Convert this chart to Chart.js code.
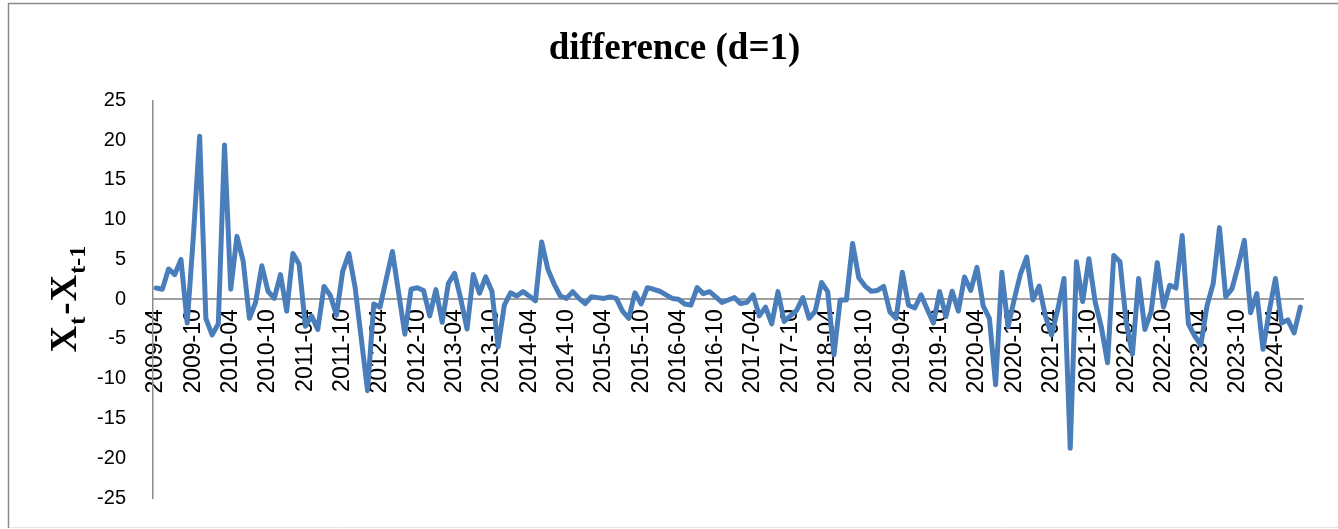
<!DOCTYPE html>
<html>
<head>
<meta charset="utf-8">
<title>difference (d=1)</title>
<script src="https://cdn.jsdelivr.net/npm/chart.js@4/dist/chart.umd.min.js"></script>
<style>
  html, body { margin: 0; padding: 0; background: #ffffff; }
  #wrap { position: relative; width: 1338px; height: 529px; }
</style>
</head>
<body>
<div id="wrap"><canvas id="chart" width="1338" height="529"></canvas></div>
<script>
// First month of the differenced series and how many months it covers
const startYear = 2009;
const startMonth = 4;
const monthCount = 185;

// Monthly first differences X(t) - X(t-1)
const diffValues = [
  1.4, 1.25, 3.8, 3.1, 5.0, -3.0, 8.0, 20.5, -2.4, -4.5,
  -3.1, 19.4, 1.25, 7.9, 4.8, -2.4, -0.4, 4.2, 1.0, 0.1,
  3.1, -1.5, 5.75, 4.4, -3.4, -2.1, -3.8, 1.6, 0.5, -2.0,
  3.5, 5.75, 1.5, -5.0, -11.5, -0.6, -1.0, 2.5, 6.0, 0.8,
  -4.4, 1.25, 1.45, 1.1, -2.1, 1.2, -2.9, 2.0, 3.25, 0.0,
  -3.75, 3.1, 0.75, 2.8, 1.0, -6.0, -0.75, 0.8, 0.4, 0.95,
  0.4, -0.2, 7.2, 3.75, 1.9, 0.4, 0.1, 0.95, 0.1, -0.55,
  0.3, 0.2, 0.1, 0.3, 0.1, -1.5, -2.4, 0.8, -0.6, 1.45,
  1.25, 1.0, 0.55, 0.1, 0.0, -0.6, -0.75, 1.45, 0.7, 0.95,
  0.3, -0.4, -0.1, 0.2, -0.55, -0.4, 0.55, -2.1, -1.0, -3.1,
  0.95, -2.8, -2.1, -1.4, 0.2, -2.4, -1.5, 2.1, 0.95, -7.0,
  -0.1, -0.1, 7.0, 2.7, 1.65, 1.0, 1.1, 1.6, -1.6, -2.4,
  3.4, -0.75, -1.1, 0.55, -1.25, -3.0, 0.95, -2.2, 1.0, -1.5,
  2.8, 1.1, 4.0, -0.85, -2.4, -10.75, 3.4, -3.5, 0.0, 3.2,
  5.3, -0.1, 1.65, -2.1, -4.5, -1.25, 2.6, -18.75, 4.7, -0.3,
  5.1, -0.3, -3.5, -8.0, 5.5, 4.7, -2.9, -6.9, 2.6, -3.8,
  -1.6, 4.6, -1.0, 1.75, 1.4, 8.0, -3.1, -4.6, -5.75, -0.8,
  2.0, 9.0, 0.3, 1.3, 4.2, 7.4, -1.7, 0.7, -6.3, -1.5,
  2.6, -3.0, -2.6, -4.25, -1.0
];

// Y axis range and step
const yMin = -25;
const yMax = 25;
const yStep = 5;

// Month labels "YYYY-MM"
const months = [];
for (let k = 0; k < monthCount; k++) {
  const m0 = startMonth - 1 + k;
  const y = startYear + Math.floor(m0 / 12);
  const m = (m0 % 12) + 1;
  months.push(y + '-' + String(m).padStart(2, '0'));
}
// A tick label every six months
const labelEvery = 6;

// Outer frame of the chart
const framePlugin = {
  id: 'frame',
  beforeDraw(chart) {
    const ctx = chart.ctx;
    ctx.save();
    ctx.strokeStyle = '#e6e6e6';
    ctx.lineWidth = 1;
    ctx.beginPath();
    ctx.moveTo(8, 527.5);
    ctx.lineTo(1338, 527.5);
    ctx.stroke();
    ctx.strokeStyle = '#8a8a8a';
    ctx.lineWidth = 1.5;
    ctx.beginPath();
    ctx.moveTo(1338, 3.5);
    ctx.lineTo(8.5, 3.5);
    ctx.lineTo(8.5, 528);
    ctx.stroke();
    ctx.restore();
  }
};

// Vertical axis title with subscripts: X_t - X_t-1
const yTitlePlugin = {
  id: 'yTitleSub',
  afterDraw(chart) {
    const ctx = chart.ctx;
    const area = chart.chartArea;
    const big = 'bold 37px "Liberation Serif", "Times New Roman", serif';
    const small = 'bold 24px "Liberation Serif", "Times New Roman", serif';
    const parts = [
      { t: 'X', f: big, dy: 0, gap: 1 },
      { t: 't', f: small, dy: 9, gap: 2 },
      { t: '-', f: big, dy: 0, gap: 1 },
      { t: 'X', f: big, dy: 0, gap: 1 },
      { t: 't-1', f: small, dy: 9, gap: 0 }
    ];
    ctx.save();
    let total = 0;
    parts.forEach(p => { ctx.font = p.f; p.w = ctx.measureText(p.t).width + p.gap; total += p.w; });
    ctx.translate(76, (area.top + area.bottom) / 2);
    ctx.rotate(-Math.PI / 2);
    ctx.fillStyle = '#000000';
    ctx.textBaseline = 'alphabetic';
    ctx.textAlign = 'left';
    let x = -total / 2;
    parts.forEach(p => {
      ctx.font = p.f;
      ctx.fillText(p.t, x, p.dy);
      x += p.w;
    });
    ctx.restore();
  }
};

new Chart(document.getElementById('chart'), {
  type: 'line',
  data: {
    labels: months,
    datasets: [{
      label: 'difference (d=1)',
      data: diffValues,
      borderColor: '#4a7ebb',
      backgroundColor: '#4a7ebb',
      borderWidth: 5,
      borderJoinStyle: 'round',
      borderCapStyle: 'round',
      pointRadius: 0,
      pointHoverRadius: 0,
      tension: 0,
      fill: false
    }]
  },
  options: {
    responsive: false,
    animation: false,
    events: [],
    layout: { padding: { left: 38, right: 27, top: 0, bottom: 31 } },
    plugins: {
      legend: { display: false },
      tooltip: { enabled: false },
      title: {
        display: true,
        text: 'difference (d=1)',
        color: '#000000',
        font: { family: '"Liberation Serif", "Times New Roman", serif', size: 37, weight: 'bold' },
        padding: { top: 27, bottom: 29 }
      }
    },
    scales: {
      x: {
        type: 'category',
        position: { y: 0 },
        offset: true,
        grid: { display: false, drawTicks: false },
        border: { display: true, color: '#a0a0a0', width: 2 },
        ticks: {
          autoSkip: false,
          minRotation: 90,
          maxRotation: 90,
          padding: 10,
          color: '#000000',
          font: { family: '"Liberation Sans", Arial, sans-serif', size: 23 },
          callback: function (value, index) {
            return index % labelEvery === 0 ? this.getLabelForValue(value) : '';
          }
        }
      },
      y: {
        position: 'left',
        min: yMin,
        max: yMax,
        grid: {
          display: true,
          drawOnChartArea: false,
          drawTicks: true,
          tickLength: 24,
          color: 'rgba(0,0,0,0)',
          tickColor: 'rgba(0,0,0,0)'
        },
        border: { display: true, color: '#8c8c8c', width: 1.5 },
        ticks: {
          stepSize: yStep,
          padding: 3,
          color: '#000000',
          font: { family: '"Liberation Sans", Arial, sans-serif', size: 20 }
        },
        afterFit(scale) { scale.width = 115; }
      }
    }
  },
  plugins: [framePlugin, yTitlePlugin]
});
</script>
</body>
</html>
